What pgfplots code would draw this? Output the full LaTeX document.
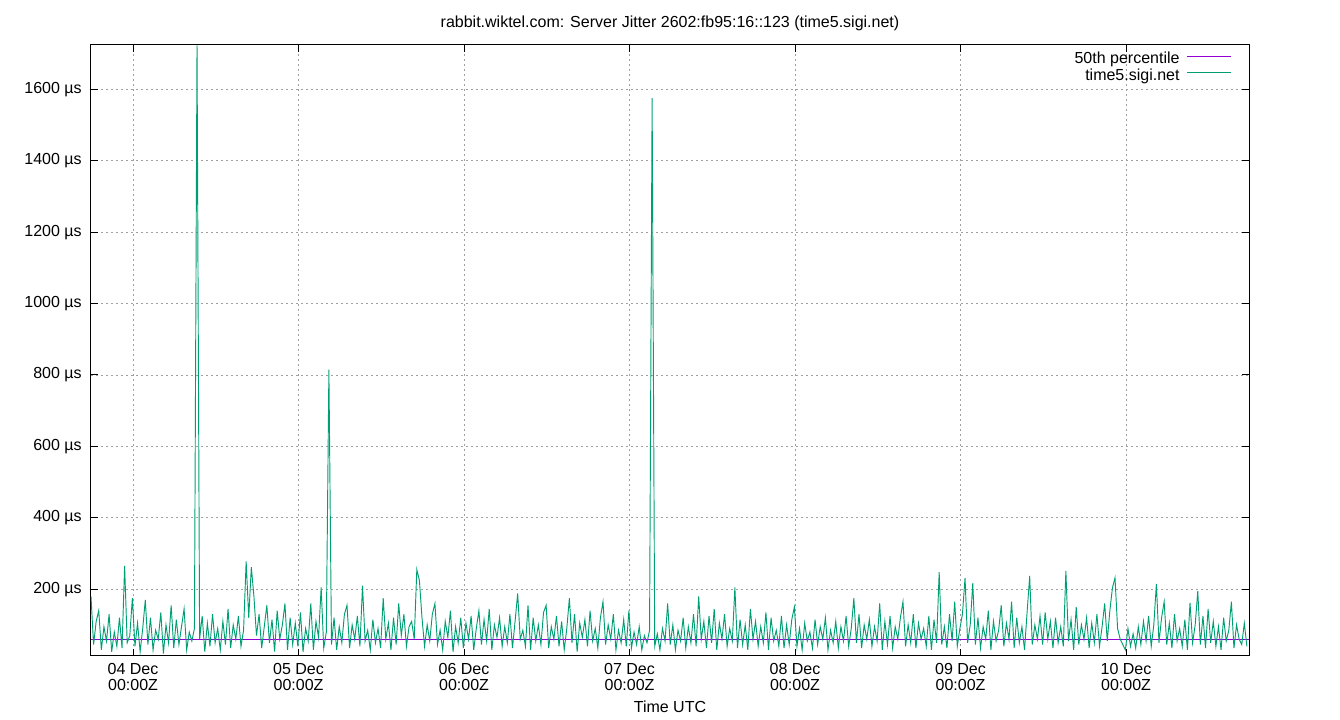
\documentclass[border=0pt]{standalone}
\usepackage{fontspec}
\setmainfont{Liberation Sans}
\usepackage{pgfplots}
\usepackage{pgfplotstable}
\pgfplotsset{compat=1.18}
\definecolor{gpurple}{HTML}{9400D3}
\definecolor{ggreen}{HTML}{009E73}
\definecolor{ggrid}{HTML}{A0A0A0}

% jitter samples, one every 1/64 day starting at -0.254 day (relative to 04 Dec 00:00Z)
\pgfplotstableread[row sep=\\]{
y\\
180\\ 45\\ 110\\ 140\\ 30\\ 95\\ 55\\ 130\\ 25\\ 80\\ 40\\ 120\\ 35\\ 265\\ 50\\ 70\\
175\\ 40\\ 105\\ 25\\ 90\\ 170\\ 45\\ 120\\ 30\\ 85\\ 60\\ 135\\ 20\\ 100\\ 50\\ 155\\
35\\ 115\\ 45\\ 95\\ 145\\ 30\\ 80\\ 55\\ 90\\ 1724\\ 60\\ 125\\ 25\\ 105\\ 40\\ 130\\
50\\ 90\\ 30\\ 110\\ 45\\ 145\\ 35\\ 100\\ 60\\ 125\\ 40\\ 85\\ 278\\ 120\\ 262\\ 180\\
70\\ 130\\ 35\\ 95\\ 155\\ 50\\ 115\\ 25\\ 140\\ 60\\ 100\\ 160\\ 30\\ 120\\ 45\\ 105\\
40\\ 135\\ 25\\ 90\\ 55\\ 160\\ 30\\ 110\\ 65\\ 205\\ 35\\ 80\\ 815\\ 45\\ 120\\ 30\\
95\\ 50\\ 130\\ 155\\ 35\\ 100\\ 60\\ 125\\ 40\\ 210\\ 55\\ 85\\ 30\\ 115\\ 50\\ 90\\
35\\ 175\\ 60\\ 105\\ 30\\ 120\\ 45\\ 160\\ 70\\ 130\\ 40\\ 95\\ 110\\ 60\\ 255\\ 225\\
120\\ 40\\ 100\\ 55\\ 130\\ 160\\ 45\\ 85\\ 30\\ 110\\ 65\\ 140\\ 25\\ 95\\ 50\\ 120\\
35\\ 105\\ 60\\ 125\\ 30\\ 90\\ 140\\ 45\\ 115\\ 55\\ 145\\ 30\\ 100\\ 65\\ 120\\ 40\\
95\\ 50\\ 130\\ 35\\ 110\\ 188\\ 60\\ 85\\ 40\\ 155\\ 30\\ 120\\ 55\\ 100\\ 45\\ 135\\
155\\ 35\\ 95\\ 60\\ 125\\ 40\\ 110\\ 30\\ 90\\ 175\\ 50\\ 130\\ 25\\ 105\\ 65\\ 115\\
40\\ 140\\ 55\\ 90\\ 35\\ 120\\ 165\\ 45\\ 100\\ 60\\ 130\\ 30\\ 85\\ 50\\ 115\\ 40\\
140\\ 35\\ 80\\ 45\\ 95\\ 30\\ 70\\ 50\\ 85\\ 1575\\ 40\\ 75\\ 30\\ 90\\ 55\\ 160\\
45\\ 100\\ 30\\ 85\\ 55\\ 120\\ 35\\ 95\\ 50\\ 130\\ 40\\ 180\\ 60\\ 110\\ 35\\ 125\\
50\\ 145\\ 30\\ 105\\ 60\\ 130\\ 40\\ 90\\ 55\\ 205\\ 35\\ 115\\ 45\\ 100\\ 30\\ 145\\
60\\ 110\\ 40\\ 95\\ 50\\ 135\\ 30\\ 120\\ 55\\ 85\\ 40\\ 125\\ 35\\ 100\\ 45\\ 115\\
150\\ 40\\ 90\\ 30\\ 105\\ 55\\ 80\\ 35\\ 115\\ 45\\ 95\\ 60\\ 120\\ 30\\ 85\\ 50\\
110\\ 35\\ 95\\ 55\\ 125\\ 40\\ 90\\ 175\\ 50\\ 130\\ 35\\ 100\\ 60\\ 115\\ 40\\ 95\\
55\\ 160\\ 30\\ 110\\ 45\\ 125\\ 35\\ 95\\ 60\\ 120\\ 165\\ 40\\ 100\\ 50\\ 130\\ 35\\
105\\ 60\\ 90\\ 40\\ 125\\ 30\\ 115\\ 50\\ 248\\ 45\\ 95\\ 35\\ 130\\ 55\\ 165\\ 40\\
90\\ 130\\ 232\\ 50\\ 100\\ 217\\ 45\\ 120\\ 35\\ 95\\ 60\\ 140\\ 30\\ 110\\ 55\\ 85\\
155\\ 40\\ 105\\ 60\\ 165\\ 35\\ 120\\ 50\\ 95\\ 30\\ 135\\ 237\\ 45\\ 100\\ 60\\ 125\\
45\\ 135\\ 60\\ 110\\ 35\\ 120\\ 50\\ 95\\ 40\\ 251\\ 55\\ 115\\ 30\\ 150\\ 45\\ 100\\
60\\ 120\\ 35\\ 105\\ 50\\ 130\\ 40\\ 95\\ 160\\ 55\\ 140\\ 204\\ 232\\ 90\\ 60\\ 45\\
30\\ 90\\ 40\\ 75\\ 35\\ 95\\ 45\\ 110\\ 55\\ 125\\ 40\\ 100\\ 215\\ 50\\ 120\\ 165\\
45\\ 105\\ 35\\ 130\\ 55\\ 90\\ 40\\ 115\\ 30\\ 162\\ 50\\ 100\\ 195\\ 45\\ 125\\ 35\\
145\\ 50\\ 110\\ 40\\ 95\\ 30\\ 120\\ 55\\ 85\\ 165\\ 35\\ 100\\ 60\\ 45\\ 105\\ 40\\
}\jitter

\pgfplotstableread[row sep=\\]{
x y\\
-0.254 60\\
6.743 60\\
}\median

\begin{document}
\begin{tikzpicture}
\useasboundingbox (-68.25pt,-48pt) rectangle (936.75pt,492pt);
\begin{axis}[
  at={(0,0)}, anchor=south west,
  scale only axis, width=868.5pt, height=458.25pt,
  xmin=-0.254, xmax=6.743, ymin=13, ymax=1724,
  xtick={0,1,2,3,4,5,6},
  xticklabels={{04 Dec\\00:00Z},{05 Dec\\00:00Z},{06 Dec\\00:00Z},{07 Dec\\00:00Z},{08 Dec\\00:00Z},{09 Dec\\00:00Z},{10 Dec\\00:00Z}},
  xticklabel style={align=center, font=\fontsize{12}{12}\selectfont, yshift=-2.3pt},
  ytick={200,400,600,800,1000,1200,1400,1600},
  yticklabels={200 µs,400 µs,600 µs,800 µs,1000 µs,1200 µs,1400 µs,1600 µs},
  yticklabel style={font=\fontsize{12}{12}\selectfont, xshift=-3.5pt},
  minor tick num=0,
  grid=major,
  grid style={ggrid, dash pattern=on 1.5pt off 2.25pt, line width=0.6pt},
  tick align=inside, major tick length=5.5pt,
  tick style={black, line width=0.75pt},
  axis line style={black, line width=0.75pt},
  xlabel={Time UTC},
  xlabel style={font=\fontsize{12}{12}\selectfont, yshift=-0.5pt},
  title={rabbit.wiktel.com: Server Jitter 2602:fb95:16::123 (time5.sigi.net)},
  title style={font=\fontsize{12}{12}\selectfont, yshift=1pt},
  legend plot pos=right,
  legend cell align=right,
  legend image code/.code={\draw[#1] (0pt,0.3em) -- (33pt,0.3em);},
  legend style={draw=none, fill=none, at={(rel axis cs:1,1)}, anchor=north east,
    xshift=-12.75pt, yshift=-5.5pt, font=\fontsize{12}{12}\selectfont,
    inner sep=0pt, row sep=0.8pt, column sep=5.25pt,
    nodes={inner sep=0pt, text height=8.5pt, text depth=3pt}},
]
\addplot[color=gpurple, line width=0.9pt] table[x=x, y=y] {\median};
\addlegendentry{50th percentile}
\addplot[color=ggreen, line width=0.7pt] table[x expr=\coordindex/64-0.254, y=y] {\jitter};
\addlegendentry{time5.sigi.net}
\end{axis}
\end{tikzpicture}
\end{document}
